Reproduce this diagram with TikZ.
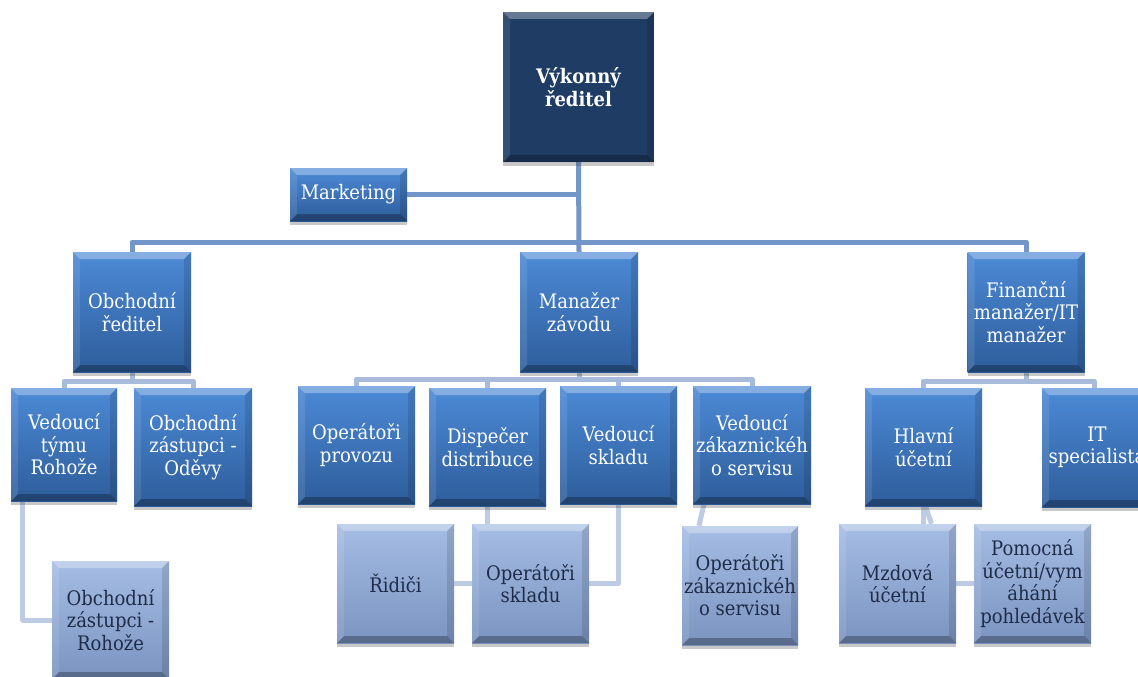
\documentclass[tikz,border=0pt]{standalone}
\usepackage{fontspec}
\setmainfont{DejaVu Serif}[FakeStretch=0.9]
\usetikzlibrary{shadows,calc}
\definecolor{bluetop}{HTML}{4C8AD6}
\definecolor{bluebot}{HTML}{2E5D9B}
\definecolor{lighttop}{HTML}{A5BDE4}
\definecolor{lightbot}{HTML}{7B94C0}
\definecolor{navy}{HTML}{1F3C64}
\definecolor{connA}{HTML}{7396C9}
\definecolor{connB}{HTML}{A8BBDA}
\definecolor{connC}{HTML}{BDCBE3}
\definecolor{darktext}{HTML}{1E2C48}
\pgfdeclarelayer{bg}
\pgfsetlayers{bg,main}
\tikzset{
  bevel/.style={path picture={
    \fill[white,opacity=0.32] (path picture bounding box.north west) -- (path picture bounding box.north east)
      -- ([shift={(-7pt,-7pt)}]path picture bounding box.north east) -- ([shift={(7pt,-7pt)}]path picture bounding box.north west) -- cycle;
    \fill[black,opacity=0.28] (path picture bounding box.south west) -- (path picture bounding box.south east)
      -- ([shift={(-7pt,7pt)}]path picture bounding box.south east) -- ([shift={(7pt,7pt)}]path picture bounding box.south west) -- cycle;
    \fill[white,opacity=0.10] (path picture bounding box.south west) -- (path picture bounding box.north west)
      -- ([shift={(7pt,-7pt)}]path picture bounding box.north west) -- ([shift={(7pt,7pt)}]path picture bounding box.south west) -- cycle;
    \fill[black,opacity=0.12] (path picture bounding box.south east) -- (path picture bounding box.north east)
      -- ([shift={(-7pt,-7pt)}]path picture bounding box.north east) -- ([shift={(-7pt,7pt)}]path picture bounding box.south east) -- cycle;
  }},
  box/.style={rectangle, draw=none, minimum width=118pt, minimum height=118pt, inner sep=1pt, align=center,
    font=\fontsize{20}{22.5}\selectfont,
    drop shadow={shadow xshift=0pt, shadow yshift=-4pt, opacity=0.3, fill=black!70}, bevel},
  bluebox/.style={box, top color=bluetop, bottom color=bluebot, text=white},
  lightbox/.style={box, top color=lighttop, bottom color=lightbot, text=darktext},
  topbox/.style={box, fill=navy, text=white, font=\fontsize{20}{22.5}\selectfont\bfseries},
  conn/.style={line width=5pt, line join=round},
  connmain/.style={conn, draw=connA},
  connsub/.style={conn, draw=connB},
  connlow/.style={conn, draw=connC},
}
\begin{document}
\begin{tikzpicture}[x=1pt, y=-1pt]
\useasboundingbox (0,0) rectangle (1138,677);
% level 1
\node[topbox, minimum width=151pt, minimum height=150pt] (ceo) at (578.5,87) {Výkonný\\ředitel};
\node[bluebox, minimum width=117pt, minimum height=53pt] (mkt) at (348.5,194.5) {Marketing};
% level 2
\node[bluebox, minimum height=120pt] (obr) at (132,312) {Obchodní\\ředitel};
\node[bluebox, minimum height=120pt] (man) at (579,312) {Manažer\\závodu};
\node[bluebox, minimum width=117pt, minimum height=120pt] (fin) at (1026,312) {Finanční\\manažer/IT\\manažer};
% level 3
\node[bluebox, minimum width=106pt, minimum height=113pt] (vtr) at (64,444.5) {Vedoucí\\týmu\\Rohože};
\node[bluebox] (ozo) at (193,447) {Obchodní\\zástupci -\\Oděvy};
\node[bluebox, minimum width=117pt] (opp) at (356.5,445) {Operátoři\\provozu};
\node[bluebox, minimum width=117pt] (dis) at (487.5,447) {Dispečer\\distribuce};
\node[bluebox, minimum width=117pt] (vsk) at (618.5,445) {Vedoucí\\skladu};
\node[bluebox] (vzs) at (752,445) {Vedoucí\\zákaznickéh\\o servisu};
\node[bluebox, minimum width=117pt] (hlu) at (923.5,447) {Hlavní\\účetní};
\node[bluebox, minimum width=110pt, minimum height=119pt] (its) at (1097,447.5) {IT\\specialista};
% level 4
\node[lightbox, minimum width=117pt] (ozr) at (110.5,620) {Obchodní\\zástupci -\\Rohože};
\node[lightbox, minimum width=117pt, minimum height=119pt] (rid) at (395.5,583.5) {Řidiči};
\node[lightbox, minimum width=117pt, minimum height=119pt] (ops) at (530.5,583.5) {Operátoři\\skladu};
\node[lightbox, minimum width=116pt, minimum height=119pt] (ozs) at (740,585.5) {Operátoři\\zákaznickéh\\o servisu};
\node[lightbox, minimum width=117pt, minimum height=119pt] (mzd) at (897.5,583.5) {Mzdová\\účetní};
\node[lightbox, minimum width=117pt, minimum height=119pt] (pom) at (1032.5,583.5) {Pomocná\\účetní/vym\\áhání\\pohledávek};
% connectors
\coordinate (busA) at (0,242);
\coordinate (busB) at (0,381);
\coordinate (busM) at (0,379);
\begin{pgfonlayer}{bg}
\fill[white] (0,0) rectangle (1138,677);
\draw[connmain] (ceo.south) -- (man.north);
\draw[connmain] (mkt.east) -- (mkt.east -| ceo.south);
\draw[connmain] (obr.north) -- (obr.north |- busA) -- (fin.north |- busA) -- (fin.north);
% Obchodni
\draw[connsub] (obr.south) -- (obr.south |- busB);
\draw[connsub] (vtr.north) -- (vtr.north |- busB) -- (ozo.north |- busB) -- (ozo.north);
% Manazer
\draw[connsub] (man.south) -- (man.south |- busM);
\draw[connsub] (opp.north) -- (opp.north |- busM) -- (vzs.north |- busM) -- (vzs.north);
\draw[connsub] (dis.north) -- (dis.north |- busM);
\draw[connsub] (vsk.north) -- (vsk.north |- busM);
% Financni
\draw[connsub] (fin.south) -- (fin.south |- busB);
\draw[connsub] (hlu.north) -- (hlu.north |- busB) -- ([xshift=-3pt]its.north |- busB) -- ([xshift=-3pt]its.north);
% level 4
\draw[connlow] (ozr.west) -| ([xshift=12pt]vtr.south west);
\draw[connlow] (dis.south) |- (rid.east);
\draw[connlow] (vsk.south) |- (ops.east);
\draw[connlow] ([xshift=-48pt]vzs.south) -- ([xshift=-41pt]ozs.north);
\draw[connlow] (hlu.south) |- (pom.west);
\draw[connlow] ([xshift=2pt]hlu.south) -- ([xshift=34pt]mzd.north);
\end{pgfonlayer}
\end{tikzpicture}
\end{document}
